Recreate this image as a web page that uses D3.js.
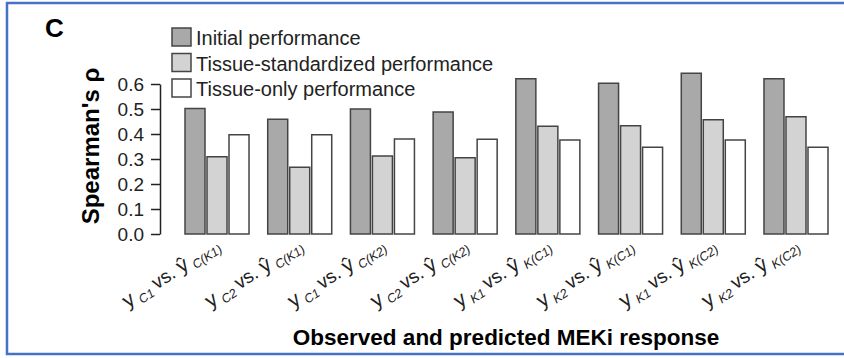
<!DOCTYPE html>
<html><head><meta charset="utf-8">
<script src="https://cdn.jsdelivr.net/npm/d3@7"></script>
<style>html,body{margin:0;background:#fff;overflow:hidden;} svg{display:block;font-family:"Liberation Sans",Arial,sans-serif;}</style>
</head><body>
<svg id="chart" width="844" height="358"></svg>
<script>
const categories = ["yC1 vs ŷC(K1)","yC2 vs ŷC(K1)","yC1 vs ŷC(K2)","yC2 vs ŷC(K2)","yK1 vs ŷK(C1)","yK2 vs ŷK(C1)","yK1 vs ŷK(C2)","yK2 vs ŷK(C2)"];
const obsSub = ["C1","C2","C1","C2","K1","K2","K1","K2"];
const predSub = ["C(K1)","C(K1)","C(K2)","C(K2)","K(C1)","K(C1)","K(C2)","K(C2)"];
const seriesNames = ["Initial performance","Tissue-standardized performance","Tissue-only performance"];
const initialPerf = [0.502, 0.459, 0.500, 0.488, 0.621, 0.603, 0.643, 0.621];
const tissueStd   = [0.309, 0.267, 0.312, 0.305, 0.431, 0.433, 0.457, 0.469];
const tissueOnly  = [0.397, 0.397, 0.380, 0.379, 0.376, 0.347, 0.376, 0.347];
const yTicks = [0, 0.1, 0.2, 0.3, 0.4, 0.5, 0.6];
const colors = ["#a9a9a9", "#d3d3d3", "#ffffff"];

const svg = d3.select("#chart");
// blue frame (open on the right)
svg.append("path").attr("d", "M 880 3 L 7 3 L 7 354 L 880 354")
  .attr("fill", "none").attr("stroke", "#4472c4").attr("stroke-width", 2.5);

svg.append("text").attr("x", 45).attr("y", 37).attr("font-size", 26).attr("font-weight", "bold").text("C");

const x0 = d3.scaleBand().domain(categories).range([185, 828]).paddingInner(0.226).paddingOuter(0);
const x1 = d3.scaleBand().domain(seriesNames).range([0, x0.bandwidth()]).paddingInner(0.0909).paddingOuter(0);
const y = d3.scaleLinear().domain([0, 0.6]).range([234, 84]);

const data = categories.map((c, i) => ({c, vals: [initialPerf[i], tissueStd[i], tissueOnly[i]]}));

const g = svg.append("g");
data.forEach(d => {
  d.vals.forEach((v, j) => {
    g.append("rect")
      .attr("x", x0(d.c) + x1(seriesNames[j]))
      .attr("y", y(v))
      .attr("width", x1.bandwidth())
      .attr("height", y(0) - y(v))
      .attr("fill", colors[j]).attr("stroke", "#444").attr("stroke-width", 1.5);
  });
});

// y axis
const ax = svg.append("g").attr("transform", "translate(160,0)")
  .call(d3.axisLeft(y).tickValues(yTicks).tickFormat(d3.format(".1f")).tickSize(9).tickSizeOuter(0).tickPadding(7));
ax.selectAll("path,line").attr("stroke", "#222").attr("stroke-width", 1.5);
ax.selectAll("text").attr("font-size", 19).attr("fill", "#222").attr("font-family", "Liberation Sans, Arial, sans-serif");

// y title
svg.append("text").attr("transform", "translate(99,146) rotate(-90)").attr("text-anchor", "middle")
  .attr("font-size", 24).attr("font-weight", "bold").text("Spearman's ρ");

// x labels
categories.forEach((c, i) => {
  const cx = x0(c) + x0.bandwidth() / 2;
  const t = svg.append("text").attr("text-anchor", "end")
    .attr("transform", `translate(${cx + 4},${248}) rotate(-33)`)
    .attr("fill", "#222");
  t.append("tspan").attr("font-size", 21).text("y");
  t.append("tspan").attr("font-size", 12.5).attr("font-style", "italic").attr("dx", 4).attr("dy", 4).text(obsSub[i]);
  t.append("tspan").attr("font-size", 19).attr("dx", 4).attr("dy", -4).text("vs. ");
  t.append("tspan").attr("font-size", 21).text("ŷ");
  t.append("tspan").attr("font-size", 12.5).attr("font-style", "italic").attr("dx", 4).attr("dy", 4).text(predSub[i]);
});

// x title
svg.append("text").attr("x", 506).attr("y", 345).attr("text-anchor", "middle")
  .attr("font-size", 22.5).attr("font-weight", "bold").text("Observed and predicted MEKi response");

// legend
const legY = [28, 53.5, 79];
seriesNames.forEach((s, j) => {
  svg.append("rect").attr("x", 172).attr("y", legY[j]).attr("width", 19).attr("height", 18)
    .attr("fill", colors[j]).attr("stroke", "#444").attr("stroke-width", 1.5);
  svg.append("text").attr("x", 196).attr("y", legY[j] + 17).attr("font-size", 20).attr("fill", "#222").text(s);
});
</script>
</body></html>
